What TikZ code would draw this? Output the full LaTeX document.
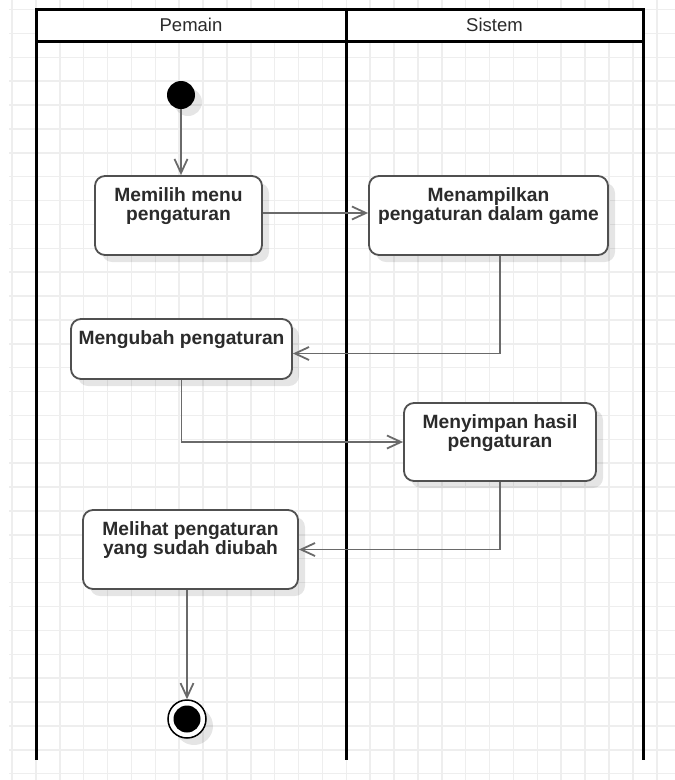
\documentclass[tikz,border=0pt]{standalone}
\usepackage{fontspec}
\setmainfont{Liberation Sans}
\usetikzlibrary{arrows.meta,shadows}
\definecolor{gridline}{HTML}{EEEEEE}
\definecolor{ink}{HTML}{2B2B2B}
\definecolor{edgegray}{HTML}{6A6A6A}
\definecolor{boxline}{HTML}{505050}

\begin{document}
\begin{tikzpicture}[x=1pt,y=-1pt,
  lanerule/.style={line width=3pt, draw=black},
  softshadow/.style={drop shadow={shadow xshift=7pt, shadow yshift=-7pt, fill=black, opacity=0.1}},
  action/.style={draw=boxline, line width=1.8pt, fill=white, rounded corners=10pt,
    inner sep=0pt, softshadow},
  acttext/.style={text=ink, font=\fontsize{19.2}{19}\selectfont\bfseries, align=center, inner sep=0pt},
  lanetitle/.style={text=ink, font=\fontsize{18.5}{20}\selectfont, inner sep=0pt},
  flow/.style={draw=edgegray, line width=1.8pt,
    -{Straight Barb[length=14pt,width=13pt,line width=1.8pt]}},
]
\useasboundingbox (0,0) rectangle (675,780);

% background grid
\foreach \k in {0,...,27}
  \draw[gridline, line width=1.5pt] ({12+23.88*\k},0) -- ({12+23.88*\k},780);
\foreach \k in {0,...,32}
  \draw[gridline, line width=1.5pt] (9,{9.5+23.88*\k}) -- (675,{9.5+23.88*\k});

% swimlanes
\fill[white] (36,9.5) rectangle (643,41);
\draw[lanerule] (36,9.5) rectangle (643,41);
\draw[lanerule] (36,9.5) -- (36,760);
\draw[lanerule] (346,9.5) -- (346,760);
\draw[lanerule] (643,9.5) -- (643,760);
\node[lanetitle] (hpemain) at (191,25.3) {Pemain};
\node[lanetitle] (hsistem) at (494.5,25.3) {Sistem};

% start node
\node[circle, fill=black, minimum size=28pt, inner sep=0pt, softshadow] (init) at (181,95) {};

% actions
\node[action, minimum width=167pt, minimum height=79pt] (b1) at (178.5,215.5) {};
\node[acttext] (t1) at ([yshift=9pt]b1.center) {Memilih menu\\pengaturan};

\node[action, minimum width=239pt, minimum height=79pt] (b2) at (488.5,215.5) {};
\node[acttext] (t2) at ([yshift=9pt]b2.center) {Menampilkan\\pengaturan dalam game};

\node[action, minimum width=221pt, minimum height=60pt] (b3) at (181.5,349) {};
\node[acttext] (t3) at ([yshift=9pt]b3.center) {Mengubah pengaturan};

\node[action, minimum width=192pt, minimum height=78pt] (b4) at (500,442) {};
\node[acttext] (t4) at ([yshift=9pt]b4.center) {Menyimpan hasil\\pengaturan};

\node[action, minimum width=215pt, minimum height=79pt] (b5) at (190.5,549.5) {};
\node[acttext] (t5) at ([yshift=9pt]b5.center) {Melihat pengaturan\\yang sudah diubah};

% end node
\node[circle, draw=black, line width=1.5pt, fill=white, minimum size=38pt, inner sep=0pt, softshadow] (fin) at (187,719) {};
\node[circle, fill=black, minimum size=27pt, inner sep=0pt] (fincore) at (fin.center) {};

% control flow
\draw[flow] (init.south) -- (init.south |- b1.north);
\draw[flow] ([yshift=2.5pt]b1.east) -- ([yshift=2.5pt]b2.west);
\draw[flow] ([xshift=11.5pt]b2.south) |- ([yshift=-4.5pt]b3.east);
\draw[flow] (b3.south) |- (b4.west);
\draw[flow] (b4.south) |- (b5.east);
\draw[flow] (b5.south -| fin.north) -- (fin.north);
\end{tikzpicture}
\end{document}
